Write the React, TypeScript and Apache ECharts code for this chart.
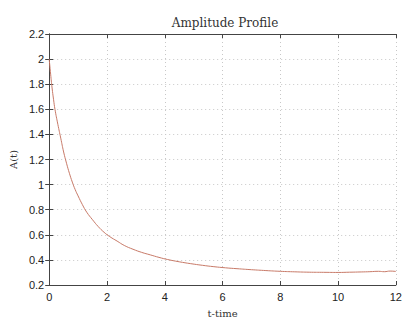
import React, { useEffect, useRef } from "react";
import * as echarts from "echarts";

const chartTitle = "Amplitude Profile";
const xAxisName = "t-time";
const yAxisName = "A(t)";

const timeValues = [
  0, 0.05, 0.1, 0.15, 0.2, 0.3, 0.4, 0.5, 0.6, 0.7, 0.8, 0.9, 1.0, 1.15, 1.3, 1.5, 1.7, 1.9,
  2.1, 2.35, 2.6, 2.9, 3.2, 3.5, 3.8, 4.1, 4.5, 4.9, 5.3, 5.7, 6.1, 6.5, 7.0, 7.5, 8.0, 8.5,
  9.0, 9.5, 10.0, 10.4, 10.8, 11.1, 11.4, 11.6, 11.8, 12.0,
];
const amplitudeValues = [
  2.0, 1.88, 1.77, 1.68, 1.6, 1.48, 1.37, 1.26, 1.17, 1.09, 1.02, 0.96, 0.91, 0.84, 0.78, 0.72,
  0.665, 0.62, 0.585, 0.55, 0.515, 0.485, 0.46, 0.44, 0.42, 0.403, 0.385, 0.37, 0.357, 0.346,
  0.337, 0.33, 0.322, 0.315, 0.309, 0.305, 0.302, 0.301, 0.3, 0.302, 0.304, 0.306, 0.309, 0.306,
  0.311, 0.308,
];

const xTicks = { min: 0, max: 12, step: 2 };
const yTicks = { min: 0.2, max: 2.2, step: 0.2 };

export default function App() {
  const ref = useRef<HTMLDivElement>(null);
  useEffect(() => {
    if (!ref.current) return;
    const chart = echarts.init(ref.current, null, { renderer: "svg" });
    const data = timeValues.map((t, i) => [t, amplitudeValues[i]]);
    const axisLine = { show: true, lineStyle: { color: "#444", width: 1 } };
    const tick = { show: true, inside: true, length: 4, lineStyle: { color: "#444" } };
    const split = { show: true, lineStyle: { color: "#c8c8c8", type: [1, 3] as any, width: 1 } };
    const labelStyle = { color: "#222", fontFamily: "Liberation Sans, Arial, sans-serif", fontSize: 11 };
    chart.setOption({
      animation: false,
      backgroundColor: "#ffffff",
      title: {
        text: chartTitle,
        left: 220,
        top: 12,
        textAlign: "center",
        textStyle: { fontFamily: "DejaVu Serif, serif", fontWeight: "normal", fontSize: 12, color: "#333" },
      },
      grid: { left: 40, right: 5, top: 34, bottom: 29, containLabel: false },
      xAxis: [
        {
          type: "value",
          min: xTicks.min,
          max: xTicks.max,
          interval: xTicks.step,
          position: "bottom",
          axisLine,
          axisTick: tick,
          splitLine: split,
          axisLabel: { ...labelStyle, margin: 6 },
          name: xAxisName,
          nameLocation: "middle",
          nameGap: 23,
          nameTextStyle: { fontFamily: "DejaVu Serif, serif", fontSize: 10, color: "#333" },
        },
        {
          type: "value",
          min: xTicks.min,
          max: xTicks.max,
          interval: xTicks.step,
          position: "top",
          axisLine,
          axisTick: tick,
          splitLine: { show: false },
          axisLabel: { show: false },
        },
      ],
      yAxis: [
        {
          type: "value",
          min: yTicks.min,
          max: yTicks.max,
          interval: yTicks.step,
          position: "left",
          axisLine,
          axisTick: tick,
          splitLine: split,
          axisLabel: {
            ...labelStyle,
            margin: 5,
            formatter: (v: number) => String(Number(v.toFixed(1))),
          },
          name: yAxisName,
          nameLocation: "middle",
          nameGap: 17,
          nameRotate: 90,
          nameTextStyle: { fontFamily: "DejaVu Serif, serif", fontSize: 10, color: "#333" },
        },
        {
          type: "value",
          min: yTicks.min,
          max: yTicks.max,
          interval: yTicks.step,
          position: "right",
          axisLine,
          axisTick: tick,
          splitLine: { show: false },
          axisLabel: { show: false },
        },
      ],
      series: [
        {
          type: "line",
          data,
          xAxisIndex: 0,
          yAxisIndex: 0,
          showSymbol: false,
          smooth: true,
          lineStyle: { color: "#c87a68", width: 1 },
        },
      ],
    });
    return () => chart.dispose();
  }, []);
  return <div ref={ref} style={{ width: 405, height: 323, position: "absolute", left: 0, top: 0 }} />;
}
